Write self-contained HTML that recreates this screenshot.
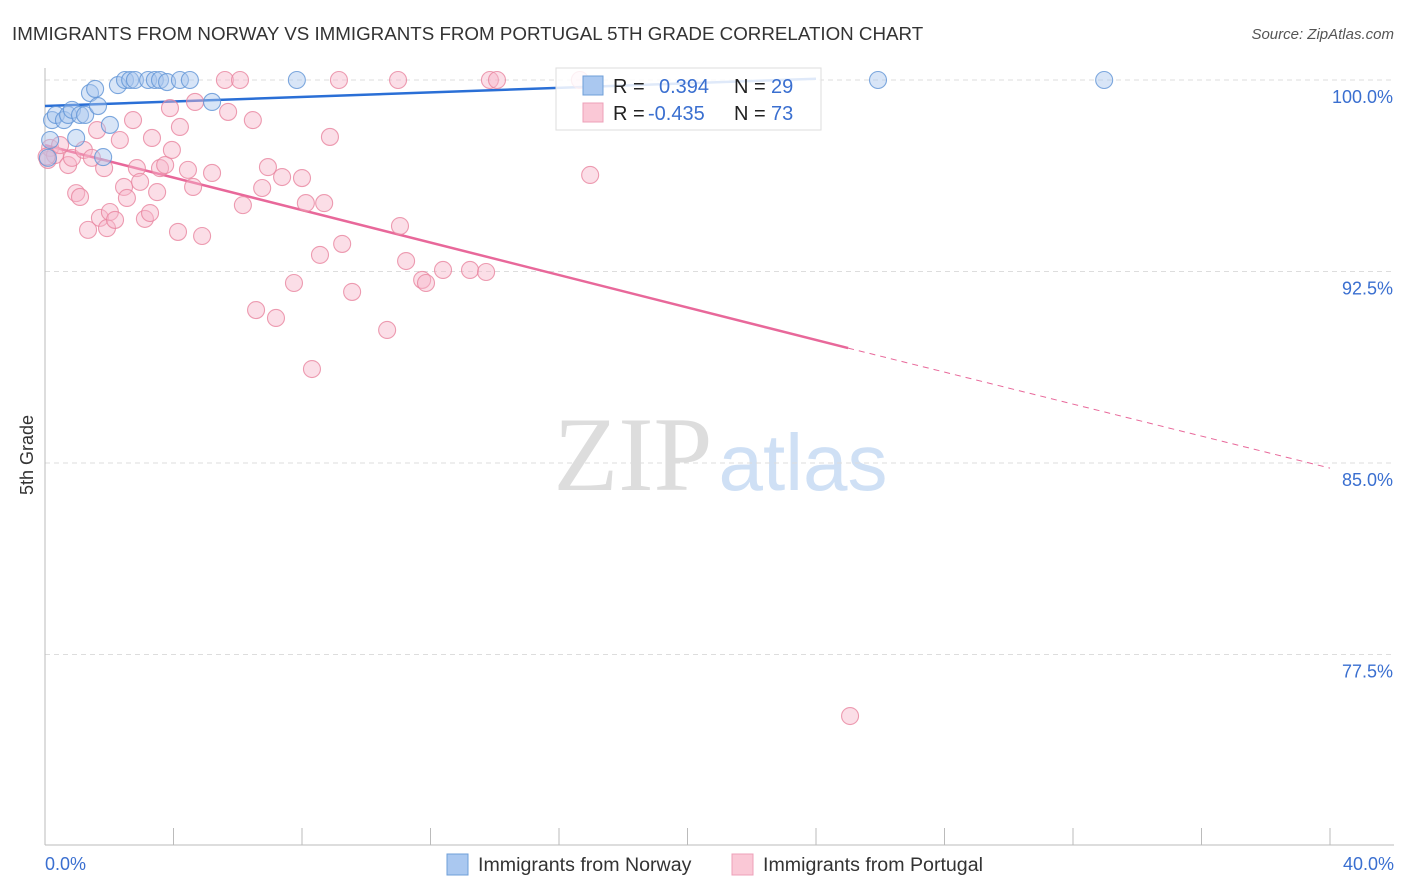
<!DOCTYPE html>
<html><head><meta charset="utf-8"><style>
body{margin:0;background:#fff;font-family:"Liberation Sans",sans-serif;}
svg{display:block}
</style></head><body>
<svg id="chart" width="1406" height="892">
<text x="12" y="40" font-size="18.75" fill="#333">IMMIGRANTS FROM NORWAY VS IMMIGRANTS FROM PORTUGAL 5TH GRADE CORRELATION CHART</text>
<text x="1394" y="39" font-size="15" fill="#555" text-anchor="end" font-style="italic">Source: ZipAtlas.com</text>
<text x="33" y="455" font-size="18" fill="#333" text-anchor="middle" transform="rotate(-90 33 455)">5th Grade</text>
<g>
<text x="633" y="490" font-size="106" fill="#ddd" font-family="Liberation Serif,serif" text-anchor="middle">ZIP</text>
<text x="803" y="490" font-size="80" fill="#cfe0f5" text-anchor="middle">atlas</text>
</g>
<g id="grid"></g><g id="axes"></g><g id="lines"></g><g id="pts"></g>
<g>
<rect x="556" y="68" width="265" height="62" fill="#fff" fill-opacity="0.85" stroke="#ddd"/>
<rect x="583" y="76" width="20" height="19" fill="#aac8f0" stroke="#6f9fd8"/>
<rect x="583" y="103" width="20" height="19" fill="#fac8d6" stroke="#eda0b8"/>
<text y="93" font-size="20" fill="#222"><tspan x="613">R = </tspan><tspan x="659" fill="#3a6fd0">0.394</tspan><tspan x="734">N = </tspan><tspan x="771" fill="#3a6fd0">29</tspan></text>
<text y="120" font-size="20" fill="#222"><tspan x="613">R = </tspan><tspan x="648" fill="#3a6fd0">-0.435</tspan><tspan x="734">N = </tspan><tspan x="771" fill="#3a6fd0">73</tspan></text>
</g>
<g>
<rect x="447" y="854" width="21" height="21" fill="#aac8f0" stroke="#6f9fd8"/>
<text x="478" y="871" font-size="19.6" fill="#333">Immigrants from Norway</text>
<rect x="732" y="854" width="21" height="21" fill="#fac8d6" stroke="#eda0b8"/>
<text x="763" y="871" font-size="19.6" fill="#333">Immigrants from Portugal</text>
</g>
</svg>
<script>
const yTicks=[100,92.5,85,77.5];
const yTickLabels=["100.0%","92.5%","85.0%","77.5%"];
const xTickLabels=["0.0%","40.0%"];
const norwayX=[0.22,0.34,0.59,0.72,0.84,1.09,1.25,1.40,1.56,1.65,2.02,1.81,0.97,2.27,2.49,2.65,2.80,3.21,3.42,3.58,3.80,4.20,4.51,5.20,7.84,25.93,32.97,0.09,0.16];
const norwayY=[98.43,98.63,98.43,98.63,98.83,98.63,98.63,99.49,99.65,98.98,98.24,96.98,97.73,99.80,100,100,100,100,100,100,99.92,100,100,99.14,100,100,100,96.95,97.65];
const portX=[0.09,0.16,0.31,0.47,0.72,0.84,0.97,1.09,1.21,1.34,1.46,1.62,1.71,1.84,1.93,2.02,2.18,2.33,2.46,2.55,2.74,2.86,2.96,3.11,3.27,3.33,3.49,3.58,3.74,3.89,3.95,4.14,4.20,4.45,4.61,4.67,4.89,5.20,5.60,5.70,6.07,6.16,6.47,6.76,6.57,6.94,7.19,7.38,7.75,8.00,8.12,8.31,8.56,8.69,8.87,9.15,9.25,9.56,10.65,10.99,11.05,11.24,11.74,11.86,12.39,13.23,13.73,13.85,14.07,16.97,25.06,16.65,0.05];
const portY=[96.87,97.34,97.06,97.45,96.67,96.95,95.57,95.42,97.26,94.13,96.95,98.04,94.60,96.55,94.20,94.83,94.52,97.65,95.81,95.38,98.43,96.55,96.01,94.56,94.79,97.73,95.61,96.55,96.67,98.90,97.26,94.05,98.16,96.48,95.81,99.14,93.89,96.36,100,98.75,100,95.10,98.43,95.77,90.99,96.59,90.68,96.20,92.05,96.16,95.18,88.68,93.15,95.18,97.77,100,93.58,91.70,90.21,100,94.28,92.91,92.17,92.05,92.56,92.56,92.48,100,100,96.28,75.09,100,97.0];
const norwayFit=[[0,98.98],[24,100.05]];
const portFit=[[0,97.45],[25,89.5],[40,84.8]];
const X=v=>45+v*1285/40, Y=v=>80+(100-v)*191.5/7.5;
const NS="http://www.w3.org/2000/svg";
function mk(p,t,a){const e=document.createElementNS(NS,t);for(const k in a)e.setAttribute(k,a[k]);p.appendChild(e);return e;}
const grid=document.getElementById('grid'),axes=document.getElementById('axes'),lines=document.getElementById('lines'),pts=document.getElementById('pts');
yTicks.forEach((t,i)=>{
 const l=mk(grid,'line',{x1:45,x2:1394,y1:Y(t),y2:Y(t),stroke:'#ddd','stroke-dasharray':'5,4'});
 
 
 const tx=mk(grid,'text',{x:1393,y:Y(t)+23,'font-size':18,fill:'#3a6fd0','text-anchor':'end'});
 tx.textContent=yTickLabels[i];
 
 
});
mk(axes,'line',{x1:45,x2:45,y1:68,y2:845,stroke:'#bbb'});
mk(axes,'line',{x1:45,x2:1394,y1:845,y2:845,stroke:'#bbb'});
for(let i=0;i<=10;i++){const x=X(i*4);const t=mk(axes,'line',{x1:x,x2:x,y1:828,y2:845,stroke:'#bbb'});
 
 }
[[0,'start',45],[40,'end',1394]].forEach((d,i)=>{const t=mk(axes,'text',{x:d[2],y:870,'font-size':18,fill:'#3a6fd0','text-anchor':d[1]});t.textContent=xTickLabels[i];
 
 });
function dot(x,y,fill,stroke,name){const c=mk(pts,'circle',{cx:X(x),cy:Y(y),r:8.5,fill:fill,'fill-opacity':0.45,stroke:stroke,'stroke-width':1.1,'stroke-opacity':0.8});
 
 }
portX.forEach((x,i)=>dot(x,portY[i],'#f7b6c9','#e9849f','portugal-point'));
norwayX.forEach((x,i)=>dot(x,norwayY[i],'#a8c6ee','#5f93d6','norway-point'));
const bl=mk(lines,'line',{x1:X(norwayFit[0][0]),y1:Y(norwayFit[0][1]),x2:X(norwayFit[1][0]),y2:Y(norwayFit[1][1]),stroke:'#2a6fd6','stroke-width':2.5});


const pl=mk(lines,'line',{x1:X(portFit[0][0]),y1:Y(portFit[0][1]),x2:X(portFit[1][0]),y2:Y(portFit[1][1]),stroke:'#e8689a','stroke-width':2.5});


const pd=mk(lines,'line',{x1:X(portFit[1][0]),y1:Y(portFit[1][1]),x2:X(portFit[2][0]),y2:Y(portFit[2][1]),stroke:'#e8689a','stroke-width':1,'stroke-dasharray':'6,5'});


</script>
</body></html>
